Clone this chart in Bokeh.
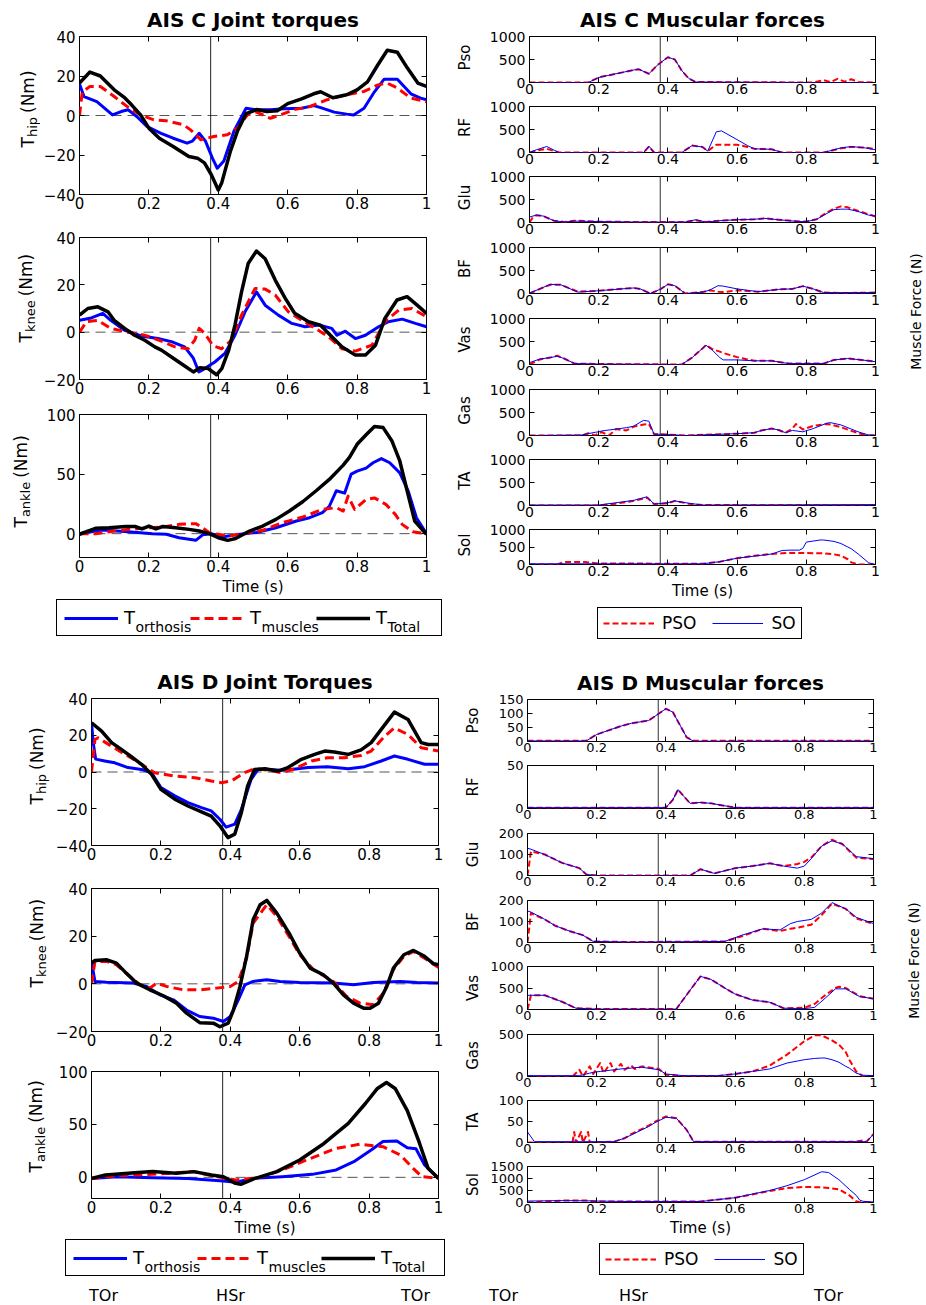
import math
import numpy as np
from bokeh.plotting import figure
from bokeh.layouts import row, column
from bokeh.models import Range1d, FixedTicker, LinearAxis, Span, Label, Legend, LegendItem
from bokeh.embed import file_html
from bokeh.resources import INLINE

FONT = "DejaVu Sans"
BLUE = "#0000ff"
RED = "#ff0000"
BLACK = "#000000"
HS = 0.378  # heel strike (right)
XTICKS = [0, 0.2, 0.4, 0.6, 0.8, 1]
XTICK_LABELS = ["0", "0.2", "0.4", "0.6", "0.8", "1"]
MUSCLES = ["Pso", "RF", "Glu", "BF", "Vas", "Gas", "TA", "Sol"]
EVENT_LABELS = ["TOr", "HSr", "TOr"]
TORQUE_SUBS = ["orthosis", "muscles", "Total"]

# ---------------- AIS C joint torques ----------------
C_HIP_ORT_T = [0, 0.013, 0.05, 0.095, 0.12, 0.14, 0.165, 0.195, 0.235, 0.27, 0.31, 0.325, 0.345, 0.363, 0.383, 0.397, 0.416, 0.445, 0.48, 0.51, 0.55, 0.59, 0.64, 0.675, 0.695, 0.734, 0.77, 0.79, 0.82, 0.85, 0.878, 0.916, 0.955, 0.983, 1.0]
C_HIP_ORT = [16, 9.6, 7, 0.3, 2, 2.9, -0.5, -5.6, -9, -11.5, -14, -13, -9, -13, -21.6, -26.7, -23, -8, 3.7, 2.9, 2.9, 3.4, 3.7, 5, 4, 1.7, 0.7, 0.3, 3.7, 12, 18.4, 18.4, 11, 8.8, 8]
C_HIP_MUS_T = [0, 0.008, 0.03, 0.06, 0.1, 0.137, 0.176, 0.214, 0.25, 0.3, 0.32, 0.35, 0.387, 0.426, 0.455, 0.484, 0.51, 0.55, 0.58, 0.617, 0.665, 0.714, 0.77, 0.82, 0.86, 0.887, 0.916, 0.955, 1.0]
C_HIP_MUS = [0, 12, 14.7, 14.7, 9.6, 4.6, 0.3, -2.2, -2.7, -4.7, -7.3, -12.3, -10.6, -9.8, -6.4, 0.3, 1.7, -1.4, 0.3, 2.9, 4.6, 8, 10.5, 12.2, 15.5, 16.4, 13.9, 8.8, 7]
C_HIP_TOT_T = [0, 0.03, 0.06, 0.1, 0.13, 0.15, 0.176, 0.2, 0.23, 0.27, 0.315, 0.34, 0.36, 0.38, 0.4, 0.41, 0.435, 0.455, 0.48, 0.51, 0.54, 0.57, 0.6, 0.64, 0.675, 0.695, 0.73, 0.77, 0.8, 0.83, 0.86, 0.887, 0.916, 0.945, 0.975, 1.0]
C_HIP_TOT = [16.4, 22, 20, 13, 9, 5.4, 0.3, -6.4, -11.5, -15.7, -20.8, -21.6, -24, -30, -37.7, -34, -18, -8, 1, 3, 2, 2.4, 6, 8.4, 11, 12, 9, 10.5, 13, 17, 25.7, 33, 32, 24, 16.4, 14.7]

C_KNEE_ORT_T = [0, 0.034, 0.067, 0.09, 0.13, 0.178, 0.226, 0.265, 0.303, 0.328, 0.344, 0.361, 0.39, 0.419, 0.448, 0.477, 0.51, 0.535, 0.573, 0.612, 0.65, 0.69, 0.727, 0.742, 0.766, 0.795, 0.824, 0.862, 0.89, 0.93, 0.968, 1.0]
C_KNEE_ORT = [5, 6, 7.9, 5, 0.8, -1.6, -2.7, -4, -6.2, -11, -16.8, -15.4, -12.6, -9, -1.3, 8.6, 17, 11.4, 7.2, 3.7, 2.3, 3, 1.6, -1.3, 0.4, -2.7, -1.3, 2.3, 4.4, 5.5, 3.7, 2.3]
C_KNEE_MUS_T = [0, 0.02, 0.053, 0.09, 0.14, 0.188, 0.236, 0.275, 0.313, 0.332, 0.345, 0.361, 0.385, 0.41, 0.438, 0.467, 0.506, 0.535, 0.564, 0.602, 0.641, 0.68, 0.718, 0.756, 0.795, 0.843, 0.88, 0.92, 0.958, 1.0]
C_KNEE_MUS = [0, 4.4, 5, 1.6, 0, -1.3, -3.8, -6.2, -7, -3.4, 1.6, -0.5, -5.8, -7, -3.4, 7.2, 18.5, 18.2, 15.7, 8.6, 5, 1.6, -2, -7, -8, -5.5, 4.4, 9.3, 10, 6.5]
C_KNEE_TOT_T = [0, 0.024, 0.053, 0.082, 0.1, 0.13, 0.159, 0.188, 0.217, 0.236, 0.265, 0.3, 0.328, 0.347, 0.371, 0.395, 0.41, 0.43, 0.448, 0.467, 0.486, 0.51, 0.535, 0.564, 0.593, 0.62, 0.66, 0.694, 0.723, 0.756, 0.795, 0.824, 0.853, 0.88, 0.915, 0.944, 0.973, 1.0]
C_KNEE_TOT = [7.2, 10, 10.7, 8.6, 5, 1.6, -1.3, -3.4, -6.2, -7.6, -10.5, -14, -16.8, -15, -15.4, -18, -15.4, -7.6, 3, 17, 29, 34.3, 31, 22, 14.3, 8, 4.4, 3, -1.3, -6.2, -9.7, -9.7, -5.5, 5.8, 13.6, 15, 11.4, 7.9]

C_ANK_ORT_T = [0, 0.065, 0.14, 0.21, 0.25, 0.287, 0.335, 0.355, 0.38, 0.41, 0.45, 0.51, 0.566, 0.625, 0.663, 0.7, 0.72, 0.74, 0.764, 0.783, 0.8, 0.826, 0.846, 0.87, 0.894, 0.923, 0.947, 0.971, 1.0]
C_ANK_ORT = [0, 3, 1.7, 0, -0.5, -3.4, -5.6, -1, 0, -2.8, -1, 1, 5, 10.6, 13.4, 17.6, 23, 36, 34, 50, 52.5, 55, 59.5, 63, 59.5, 51, 36, 13.4, 0]
C_ANK_MUS_T = [0, 0.046, 0.114, 0.18, 0.24, 0.287, 0.335, 0.355, 0.374, 0.4, 0.43, 0.47, 0.528, 0.585, 0.644, 0.7, 0.74, 0.76, 0.774, 0.793, 0.826, 0.85, 0.883, 0.91, 0.93, 0.96, 1.0]
C_ANK_MUS = [0, 0, 2.8, 4.5, 5.6, 7.8, 8.4, 5, 0.8, -0.5, -2, 0, 2.8, 9.2, 14, 20.4, 21.8, 19, 31.5, 20.4, 28.8, 30, 24.6, 16.2, 7.8, 1.7, 0]
C_ANK_TOT_T = [0, 0.046, 0.085, 0.133, 0.16, 0.18, 0.2, 0.22, 0.24, 0.277, 0.316, 0.345, 0.374, 0.4, 0.427, 0.45, 0.49, 0.528, 0.566, 0.605, 0.644, 0.682, 0.72, 0.76, 0.778, 0.8, 0.826, 0.85, 0.875, 0.9, 0.923, 0.942, 0.966, 1.0]
C_ANK_TOT = [-0.5, 4.5, 5, 6, 6, 4, 6.4, 4, 6, 5, 3.6, 2.2, 0, -3.4, -5.6, -4, 2.2, 6.4, 12, 19, 27, 36, 45.5, 57.5, 64, 75, 83, 90, 89, 78, 61, 38.5, 10.6, -0.5]

# ---------------- AIS C muscular forces ----------------
C_PSO_T = [0, 0.17, 0.2, 0.25, 0.3, 0.315, 0.345, 0.37, 0.4, 0.42, 0.44, 0.46, 0.48, 0.82, 0.85, 0.87, 0.89, 0.91, 0.93, 0.95, 1.0]
C_PSO_SO = [0, 0, 110, 190, 270, 290, 190, 380, 550, 500, 260, 90, 10, 0, 0, 0, 0, 0, 0, 0, 0]
C_PSO_PSO = [0, 0, 110, 190, 270, 290, 190, 380, 550, 500, 260, 90, 10, 0, 50, 10, 80, 20, 70, 10, 0]
C_RF_T = [0, 0.02, 0.05, 0.085, 0.2, 0.33, 0.345, 0.36, 0.44, 0.47, 0.5, 0.515, 0.54, 0.555, 0.6, 0.63, 0.65, 0.7, 0.73, 0.85, 0.9, 0.93, 0.97, 1.0]
C_RF_SO = [0, 60, 130, 0, 0, 0, 140, 0, 0, 150, 120, 30, 450, 470, 280, 150, 80, 70, 0, 0, 100, 130, 100, 60]
C_RF_PSO = [0, 40, 80, 0, 0, 0, 130, 0, 0, 150, 120, 30, 170, 170, 170, 120, 80, 70, 0, 0, 90, 120, 110, 70]
C_GLU_T = [0, 0.01, 0.02, 0.04, 0.07, 0.1, 0.13, 0.2, 0.3, 0.45, 0.48, 0.51, 0.55, 0.6, 0.65, 0.68, 0.72, 0.78, 0.8, 0.83, 0.86, 0.88, 0.9, 0.92, 0.95, 0.98, 1.0]
C_GLU_SO = [120, 140, 160, 140, 40, 10, 30, 20, 10, 10, 60, 10, 40, 60, 70, 90, 60, 20, 20, 70, 200, 280, 290, 290, 240, 160, 140]
C_GLU_PSO = [0, 120, 160, 140, 40, 10, 40, 20, 10, 10, 50, 10, 40, 60, 70, 90, 60, 20, 20, 70, 220, 300, 350, 330, 250, 180, 130]
C_BF_T = [0, 0.03, 0.06, 0.09, 0.14, 0.2, 0.3, 0.32, 0.35, 0.38, 0.4, 0.42, 0.45, 0.5, 0.52, 0.545, 0.56, 0.6, 0.66, 0.72, 0.76, 0.79, 0.82, 0.85, 0.9, 1.0]
C_BF_SO = [10, 100, 200, 190, 30, 60, 120, 100, 0, 100, 200, 170, 0, 30, 70, 170, 160, 100, 40, 90, 100, 160, 100, 20, 20, 20]
C_BF_PSO = [0, 100, 190, 190, 40, 60, 120, 100, 0, 100, 200, 170, 0, 30, 70, 40, 30, 70, 40, 90, 100, 160, 100, 20, 10, 20]
C_VAS_T = [0, 0.03, 0.06, 0.08, 0.1, 0.13, 0.2, 0.44, 0.47, 0.5, 0.51, 0.53, 0.55, 0.56, 0.6, 0.65, 0.7, 0.75, 0.85, 0.88, 0.92, 0.96, 1.0]
C_VAS_SO = [40, 120, 150, 180, 130, 20, 10, 0, 150, 350, 420, 300, 150, 100, 100, 80, 80, 20, 20, 100, 130, 100, 60]
C_VAS_PSO = [0, 110, 150, 190, 130, 20, 10, 0, 150, 350, 420, 330, 280, 250, 160, 80, 80, 20, 20, 100, 130, 100, 60]
C_GAS_T = [0, 0.15, 0.17, 0.19, 0.2, 0.21, 0.23, 0.25, 0.28, 0.3, 0.33, 0.345, 0.36, 0.4, 0.45, 0.6, 0.65, 0.67, 0.7, 0.72, 0.74, 0.76, 0.77, 0.79, 0.82, 0.86, 0.87, 0.9, 0.95, 0.98, 1.0]
C_GAS_SO = [0, 10, 40, 70, 80, 100, 120, 140, 170, 200, 330, 310, 30, 20, 0, 40, 60, 110, 150, 120, 60, 110, 100, 80, 150, 270, 280, 230, 80, 10, 10]
C_GAS_PSO = [0, 0, 50, 0, 60, 70, 0, 140, 110, 190, 240, 250, 30, 20, 0, 40, 60, 110, 150, 120, 60, 150, 250, 130, 210, 250, 240, 180, 50, 0, 0]
C_TA_T = [0, 0.2, 0.25, 0.3, 0.34, 0.36, 0.4, 0.42, 0.46, 0.5, 1.0]
C_TA_SO = [10, 10, 60, 110, 190, 30, 60, 100, 50, 10, 20]
C_TA_PSO = [0, 0, 40, 100, 170, 30, 50, 100, 40, 10, 0]
C_SOL_T = [0, 0.08, 0.1, 0.16, 0.2, 0.5, 0.55, 0.6, 0.65, 0.7, 0.73, 0.75, 0.78, 0.79, 0.8, 0.84, 0.85, 0.88, 0.9, 0.92, 0.93, 0.95, 0.98, 1.0]
C_SOL_SO = [20, 20, 20, 20, 20, 20, 80, 180, 240, 300, 400, 410, 410, 460, 640, 700, 700, 660, 600, 500, 450, 300, 50, 0]
C_SOL_PSO = [0, 0, 70, 70, 30, 20, 80, 180, 250, 300, 320, 330, 330, 330, 330, 320, 320, 290, 250, 150, 60, 0, 0, 0]

# ---------------- AIS D joint torques ----------------
D_HIP_ORT_T = [0, 0.005, 0.012, 0.038, 0.067, 0.105, 0.144, 0.173, 0.2, 0.24, 0.278, 0.317, 0.345, 0.37, 0.388, 0.413, 0.432, 0.46, 0.48, 0.51, 0.547, 0.576, 0.624, 0.68, 0.74, 0.787, 0.835, 0.873, 0.912, 0.96, 1.0]
D_HIP_ORT = [26.8, 16, 7, 6, 5, 2.4, 1.4, -0.4, -8.5, -13, -16.7, -19.4, -21.2, -25.7, -30, -28.4, -20.3, -4, 1.4, 1.4, 1, 1.4, 2.4, 2.9, 1.8, 2.9, 6, 8.7, 6.9, 4.2, 4.2]
D_HIP_MUS_T = [0, 0.01, 0.019, 0.058, 0.105, 0.144, 0.182, 0.24, 0.298, 0.345, 0.374, 0.403, 0.441, 0.47, 0.51, 0.547, 0.586, 0.634, 0.68, 0.729, 0.777, 0.806, 0.845, 0.873, 0.912, 0.95, 1.0]
D_HIP_MUS = [0, 17.7, 18.6, 14, 8.7, 4.2, -0.4, -2.2, -3.1, -4.9, -5.8, -4.9, -0.4, 1.8, 1, -0.4, 1.8, 6, 7.8, 7.8, 9, 11.4, 19.5, 24, 20.4, 13.2, 11.4]
D_HIP_TOT_T = [0, 0.029, 0.058, 0.086, 0.115, 0.144, 0.173, 0.2, 0.24, 0.278, 0.317, 0.345, 0.37, 0.393, 0.413, 0.432, 0.45, 0.47, 0.5, 0.537, 0.566, 0.605, 0.643, 0.672, 0.7, 0.74, 0.777, 0.806, 0.835, 0.873, 0.912, 0.95, 0.97, 1.0]
D_HIP_TOT = [26.8, 22.3, 16, 12.3, 8.3, 4.2, -1.3, -9.4, -14.8, -18.5, -21.7, -24, -29.3, -35.7, -33.8, -22, -7.6, 1.4, 1.8, 0.5, 2.4, 6.9, 9.6, 11.4, 10.9, 9.6, 12, 16, 23.2, 32.6, 28.6, 16, 15, 15]

D_KNEE_ORT_T = [0, 0.01, 0.043, 0.12, 0.159, 0.197, 0.236, 0.274, 0.312, 0.351, 0.38, 0.4, 0.423, 0.442, 0.466, 0.505, 0.543, 0.6, 0.697, 0.755, 0.812, 0.89, 0.938, 1.0]
D_KNEE_ORT = [9.4, 1, 0.7, 0.3, -1.1, -4.6, -6.7, -11, -13.7, -14.4, -15.8, -13.7, -6.7, -0.4, 1, 1.7, 1, 0.6, 0.3, -0.4, 0.6, 1, 0.6, 0.3]
D_KNEE_MUS_T = [0, 0.01, 0.043, 0.072, 0.11, 0.14, 0.168, 0.188, 0.216, 0.264, 0.312, 0.36, 0.4, 0.423, 0.447, 0.466, 0.505, 0.534, 0.572, 0.6, 0.64, 0.697, 0.735, 0.774, 0.812, 0.841, 0.87, 0.9, 0.928, 0.967, 1.0]
D_KNEE_MUS = [0, 9.4, 9.4, 8, 3.1, -0.4, -1.8, 0.3, -1.1, -2.5, -2.5, -1.8, -1.1, 1, 10.8, 25.5, 33.2, 28.3, 19.2, 12.2, 5.9, 1, -5.3, -8.1, -8.8, -3.9, 5.9, 11.5, 13.6, 10.1, 6.9]
D_KNEE_TOT_T = [0, 0.01, 0.043, 0.072, 0.1, 0.13, 0.168, 0.207, 0.245, 0.274, 0.312, 0.351, 0.37, 0.394, 0.409, 0.428, 0.447, 0.466, 0.486, 0.505, 0.534, 0.572, 0.6, 0.63, 0.668, 0.697, 0.726, 0.755, 0.784, 0.803, 0.827, 0.851, 0.87, 0.9, 0.928, 0.957, 0.986, 1.0]
D_KNEE_TOT = [8.7, 9.8, 10.1, 8.7, 4.5, 0.3, -2.5, -5, -8.1, -12.3, -16.3, -16.5, -18, -16.5, -11, -1.1, 11.5, 27, 33.2, 35, 29.7, 20.6, 12.9, 6.6, 3.8, 0.3, -4.6, -8.1, -10.2, -10.2, -8.1, -1.1, 6.6, 12.2, 14, 11.8, 8.4, 8]

D_ANK_ORT_T = [0, 0.073, 0.176, 0.278, 0.38, 0.415, 0.466, 0.55, 0.636, 0.705, 0.756, 0.807, 0.84, 0.88, 0.91, 0.935, 0.96, 1.0]
D_ANK_ORT = [-1, 0.6, -0.3, -1, -3.5, -4.7, -1, 0.6, 2.8, 7, 14.8, 26, 33.8, 34.4, 28, 27, 11.7, -1]
D_ANK_MUS_T = [0, 0.073, 0.176, 0.295, 0.346, 0.415, 0.483, 0.55, 0.62, 0.705, 0.773, 0.84, 0.89, 0.927, 0.952, 1.0]
D_ANK_MUS = [-1, 1.6, 2.8, 5.4, 1.6, -2.5, -0.3, 7, 16.4, 27.4, 31.2, 29, 21, 8.5, 0.6, -1]
D_ANK_TOT_T = [0, 0.04, 0.125, 0.176, 0.244, 0.295, 0.346, 0.38, 0.415, 0.43, 0.466, 0.534, 0.6, 0.67, 0.74, 0.79, 0.824, 0.85, 0.875, 0.91, 0.944, 0.97, 1.0]
D_ANK_TOT = [-1, 2.2, 4.4, 5.4, 3.8, 5.4, 2.2, 0.6, -5.7, -6.6, -1.6, 5.4, 16.4, 32, 51, 70, 84, 89.6, 84, 63, 33.4, 8.5, -1]

# ---------------- AIS D muscular forces ----------------
D_PSO_T = [0, 0.17, 0.2, 0.23, 0.27, 0.3, 0.35, 0.38, 0.4, 0.42, 0.44, 0.46, 0.48, 1.0]
D_PSO_SO = [2, 2, 25, 38, 55, 65, 75, 100, 117, 105, 60, 15, 1, 2]
D_PSO_PSO = [3, 3, 25, 38, 55, 65, 75, 100, 117, 105, 60, 15, 3, 3]
D_RF_T = [0, 0.38, 0.4, 0.42, 0.435, 0.45, 0.47, 0.5, 0.53, 0.6, 1.0]
D_RF_SO = [1, 1, 1, 10, 22, 15, 6, 7, 6, 1, 1]
D_RF_PSO = [1, 1, 1, 10, 22, 15, 6, 7, 6, 1, 1]
D_GLU_T = [0, 0.01, 0.05, 0.1, 0.15, 0.17, 0.2, 0.47, 0.5, 0.54, 0.6, 0.65, 0.7, 0.74, 0.78, 0.8, 0.82, 0.85, 0.88, 0.91, 0.95, 1.0]
D_GLU_SO = [130, 125, 100, 60, 35, 5, 0, 0, 30, 10, 35, 45, 58, 45, 35, 45, 80, 140, 165, 150, 90, 80]
D_GLU_PSO = [0, 115, 100, 60, 35, 5, 0, 0, 30, 10, 35, 45, 58, 45, 55, 65, 85, 140, 170, 150, 85, 78]
D_BF_T = [0, 0.01, 0.05, 0.08, 0.12, 0.16, 0.19, 0.3, 0.57, 0.62, 0.68, 0.73, 0.76, 0.78, 0.82, 0.85, 0.88, 0.92, 0.95, 1.0]
D_BF_SO = [150, 145, 110, 80, 55, 35, 5, 2, 5, 35, 65, 60, 90, 100, 110, 140, 190, 160, 120, 90]
D_BF_PSO = [0, 140, 110, 80, 55, 35, 5, 2, 5, 30, 65, 55, 65, 70, 85, 130, 185, 160, 115, 88]
D_VAS_T = [0, 0.01, 0.05, 0.1, 0.14, 0.2, 0.43, 0.47, 0.5, 0.53, 0.57, 0.6, 0.65, 0.7, 0.74, 0.8, 0.83, 0.86, 0.89, 0.9, 0.92, 0.96, 1.0]
D_VAS_SO = [330, 330, 330, 180, 30, 10, 10, 450, 770, 700, 500, 360, 220, 170, 30, 20, 50, 260, 480, 480, 480, 300, 250]
D_VAS_PSO = [0, 330, 330, 180, 30, 10, 10, 450, 770, 700, 500, 360, 220, 170, 30, 40, 130, 330, 500, 530, 500, 310, 250]
D_GAS_T = [0, 0.13, 0.15, 0.16, 0.18, 0.19, 0.21, 0.22, 0.24, 0.25, 0.27, 0.28, 0.3, 0.31, 0.33, 0.38, 0.4, 0.45, 0.55, 0.6, 0.65, 0.7, 0.75, 0.8, 0.83, 0.85, 0.86, 0.88, 0.9, 0.92, 0.93, 0.95, 0.97, 1.0]
D_GAS_SO = [10, 10, 10, 20, 40, 50, 60, 65, 75, 80, 90, 95, 100, 105, 110, 80, 30, 10, 10, 30, 60, 90, 160, 200, 215, 220, 220, 200, 170, 120, 100, 40, 15, 10]
D_GAS_PSO = [0, 0, 80, 0, 120, 30, 160, 40, 160, 60, 150, 80, 130, 90, 120, 90, 20, 5, 5, 30, 60, 130, 260, 420, 490, 490, 470, 430, 380, 290, 200, 60, 0, 0]
D_TA_T = [0, 0.02, 0.13, 0.135, 0.14, 0.155, 0.16, 0.175, 0.18, 0.25, 0.28, 0.3, 0.33, 0.35, 0.37, 0.4, 0.43, 0.46, 0.48, 0.95, 0.97, 0.98, 1.0]
D_TA_SO = [25, 2, 2, 2, 2, 2, 2, 2, 2, 2, 10, 18, 30, 38, 48, 60, 58, 30, 2, 2, 2, 2, 20]
D_TA_PSO = [0, 0, 0, 25, 0, 25, 0, 25, 0, 2, 10, 20, 32, 40, 50, 62, 58, 30, 2, 2, 5, 2, 20]
D_SOL_T = [0, 0.1, 0.17, 0.2, 0.3, 0.5, 0.6, 0.7, 0.75, 0.8, 0.85, 0.87, 0.9, 0.93, 0.95, 0.96, 0.97, 1.0]
D_SOL_SO = [60, 80, 70, 60, 40, 40, 200, 500, 700, 950, 1280, 1250, 950, 550, 300, 100, 50, 20]
D_SOL_PSO = [0, 80, 80, 40, 40, 40, 200, 480, 600, 650, 630, 600, 550, 300, 50, 10, 0, 0]

# y-axis settings
C_MUS_YR = [(0, 1000)] * 8
C_MUS_TICKS = [[0, 500, 1000]] * 8
D_MUS_YR = [(0, 150), (0, 50), (0, 200), (0, 200), (0, 1000), (0, 500), (0, 100), (0, 1500)]
D_MUS_TICKS = [[0, 50, 100, 150], [0, 50], [0, 100, 200], [0, 100, 200], [0, 500, 1000], [0, 500], [0, 50, 100], [0, 500, 1000, 1500]]

# ---------------- helpers ----------------
ADV = {"T": .611, "h": .634, "i": .278, "p": .635, "k": .579, "n": .634, "e": .615, "a": .613,
       "l": .278, "(": .39, "N": .748, "m": .974, ")": .39, " ": .318, "o": .612, "r": .411,
       "t": .392, "s": .521, "u": .634, "c": .55}


def tw(s, px):
    return sum(ADV.get(c, 0.6) for c in s) * px


def style_axis(ax, px):
    ax.axis_line_color = None
    ax.major_tick_in = 5
    ax.major_tick_out = 0
    ax.minor_tick_line_color = None
    ax.major_tick_line_color = "black"
    ax.major_label_text_font = FONT
    ax.major_label_text_font_size = f"{px}px"
    ax.major_label_text_color = "black"


def blank_fig(w, h, left=0, top=0):
    p = figure(width=w, height=h, x_range=Range1d(0, 1), y_range=Range1d(0, 1),
               toolbar_location=None, tools="", output_backend="svg",
               x_axis_location=None, y_axis_location=None,
               min_border_left=left, min_border_top=top, min_border_right=0, min_border_bottom=0)
    p.outline_line_color = None
    p.grid.visible = False
    p.background_fill_color = "white"
    p.border_fill_color = "white"
    return p


def make_panel(fw, fh, bl, br, bt, bb, yr, yticks, px, xstand=2, title=None):
    p = figure(frame_width=fw, frame_height=fh, min_border_left=bl, min_border_right=br,
               min_border_top=bt, min_border_bottom=bb, x_range=Range1d(0, 1),
               y_range=Range1d(yr[0], yr[1]), toolbar_location=None, tools="",
               output_backend="svg", title=title)
    p.background_fill_color = "white"
    p.border_fill_color = "white"
    p.xgrid.visible = False
    p.ygrid.visible = False
    p.outline_line_color = "black"
    p.outline_line_width = 1
    p.outline_line_alpha = 1.0
    xa, ya = p.below[0], p.left[0]
    xa.ticker = FixedTicker(ticks=XTICKS)
    xa.major_label_overrides = dict(zip(XTICKS, XTICK_LABELS))
    ya.ticker = FixedTicker(ticks=yticks)
    style_axis(xa, px)
    style_axis(ya, px)
    xa.major_label_standoff = xstand
    ya.major_label_standoff = 4
    for loc, tk in (("right", yticks), ("above", XTICKS)):
        m = LinearAxis(ticker=FixedTicker(ticks=tk))
        style_axis(m, px)
        m.major_label_text_font_size = "0px"
        m.major_label_text_color = None
        m.major_label_standoff = 0
        p.add_layout(m, loc)
    if title:
        p.title.align = "center"
        p.title.text_font = FONT
        p.title.text_font_size = "20px"
        p.title.text_font_style = "bold"
        p.title.text_color = "black"
    return p


def time_label(p, px=15):
    xa = p.below[0]
    xa.axis_label = "Time (s)"
    xa.axis_label_text_font = FONT
    xa.axis_label_text_font_size = f"{px}px"
    xa.axis_label_text_font_style = "normal"
    xa.axis_label_text_color = "black"
    xa.axis_label_standoff = 3


def add_label(p, x, y, text, px, angle=0.0, align="left", baseline="alphabetic"):
    p.add_layout(Label(x=x, y=y, x_units="screen", y_units="screen", text=text, angle=angle,
                       text_font=FONT, text_font_size=f"{px}px", text_align=align,
                       text_baseline=baseline, text_color="black"))


def t_ylabel(p, sub, x0, y0, tpx=17, spx=13):
    a = math.pi / 2
    add_label(p, x0, y0, "T", tpx, a)
    add_label(p, x0 + 5, y0 + tw("T", tpx), sub, spx, a)
    add_label(p, x0, y0 + tw("T", tpx) + tw(sub, spx) + 4, "(Nm)", tpx, a)


def torque_panel(dims, yr, yticks, series, title=None):
    fw, fh, bl, br, bt, bb = dims
    p = make_panel(fw, fh, bl, br, bt, bb, yr, yticks, 15, 2, title)
    p.add_layout(Span(location=0, dimension="width", line_color="#555555", line_width=1,
                      line_dash="10 6", level="underlay"))
    p.add_layout(Span(location=HS, dimension="height", line_color="#222222", line_width=1,
                      level="underlay"))
    (t1, y1), (t2, y2), (t3, y3) = series
    p.line(t1, y1, line_color=BLUE, line_width=3, line_join="round")
    p.line(t2, y2, line_color=RED, line_width=3, line_dash="9 5", line_join="round")
    p.line(t3, y3, line_color=BLACK, line_width=3.5, line_join="round")
    return p


def muscle_panel(dims, yr, yticks, t, pso, so, px, title=None):
    fw, fh, bl, br, bt, bb = dims
    p = make_panel(fw, fh, bl, br, bt, bb, yr, yticks, px, 1, title)
    p.add_layout(Span(location=HS, dimension="height", line_color="#555555", line_width=1.2,
                      level="underlay"))
    p.line(t, pso, line_color=RED, line_width=2, line_dash="6 3", line_join="round")
    p.line(t, so, line_color=BLUE, line_width=1, line_join="round")
    return p


NAN1 = np.array([np.nan])  # legend proxies draw nothing in the plot area


def torque_legend_fig(w, h, left, top, lw, pad=7, gw=54, gh=20, stand=6, sp=8, fpx=18, spx=14):
    p = blank_fig(w, h, left, top)
    r1 = p.line(NAN1, NAN1, line_color=BLUE, line_width=3)
    r2 = p.line(NAN1, NAN1, line_color=RED, line_width=3, line_dash="9 5")
    r3 = p.line(NAN1, NAN1, line_color=BLACK, line_width=3.5)
    items = [LegendItem(label="T", renderers=[r]) for r in (r1, r2, r3)]
    leg = Legend(items=items, location="top_left", orientation="horizontal", padding=pad,
                 glyph_width=gw, glyph_height=gh, label_standoff=stand, label_width=lw,
                 spacing=sp, margin=0, label_text_font=FONT, label_text_font_size=f"{fpx}px",
                 label_text_color="black",
                 border_line_color="black", border_line_width=1, border_line_alpha=1.0,
                 background_fill_alpha=0.0)
    p.add_layout(leg)
    frame_h = h - top
    pitch = gw + stand + lw + sp
    hgt = 2 * pad + max(gh, fpx * 1.164)
    base = frame_h - (hgt / 2 + 0.345 * fpx + 4)
    for i, s in enumerate(TORQUE_SUBS):
        x = pad + i * pitch + gw + stand + tw("T", fpx) + 1
        add_label(p, x, base, s, spx)
    return p


def muscle_legend_fig(w, h, left, top):
    p = blank_fig(w, h, left, top)
    r1 = p.line(NAN1, NAN1, line_color=RED, line_width=2, line_dash="6 3")
    r2 = p.line(NAN1, NAN1, line_color=BLUE, line_width=1.2)
    items = [LegendItem(label="PSO", renderers=[r1]), LegendItem(label="SO", renderers=[r2])]
    leg = Legend(items=items, location="top_left", orientation="horizontal", padding=5,
                 glyph_width=51, glyph_height=16, label_standoff=8, spacing=16, margin=0,
                 label_text_font=FONT, label_text_font_size="17px", label_text_color="black",
                 border_line_color="black", border_line_width=1, border_line_alpha=1.0,
                 background_fill_alpha=0.0)
    p.add_layout(leg)
    return p


def frame_bottoms(bts, fhs, bbs):
    """screen y (from column top) of each frame's top and bottom"""
    out, y = [], 0
    for bt, fh, bb in zip(bts, fhs, bbs):
        out.append((y + bt, y + bt + fh))
        y += bt + fh + bb
    return out, y


# =============== AIS C: joint torques (left, x 0..450, y 0..645) ===============
TL_BT, TL_FH, TL_BB = [35, 21, 13], [158, 142, 143], [22, 22, 41]
tl_frames, tl_h = frame_bottoms(TL_BT, TL_FH, TL_BB)
tl_specs = [((-40, 40), [-40, -20, 0, 20, 40], [(C_HIP_ORT_T, C_HIP_ORT), (C_HIP_MUS_T, C_HIP_MUS), (C_HIP_TOT_T, C_HIP_TOT)]),
            ((-20, 40), [-20, 0, 20, 40], [(C_KNEE_ORT_T, C_KNEE_ORT), (C_KNEE_MUS_T, C_KNEE_MUS), (C_KNEE_TOT_T, C_KNEE_TOT)]),
            ((-20, 100), [0, 50, 100], [(C_ANK_ORT_T, C_ANK_ORT), (C_ANK_MUS_T, C_ANK_MUS), (C_ANK_TOT_T, C_ANK_TOT)])]
tl_panels = []
for i, (yr, yt, ser) in enumerate(tl_specs):
    tl_panels.append(torque_panel((347, TL_FH[i], 38, 25, TL_BT[i], TL_BB[i]), yr, yt, ser,
                                  "AIS C Joint torques" if i == 0 else None))
time_label(tl_panels[2])
tl_lab = blank_fig(40, tl_h)
for (ftop, fbot), sub, bx, off in zip(tl_frames, ["hip", "knee", "ankle"], [27, 25, 20], [46, 36, 29]):
    t_ylabel(tl_lab, sub, bx, tl_h - fbot + off)
tl_leg = torque_legend_fig(450, 645 - tl_h, 56, 1, 58)
tl_col = column(row(tl_lab, column(*tl_panels)), tl_leg)

# =============== AIS C: muscular forces (right, x 450..926) ===============
TR_BT = [34, 6, 6, 6, 6, 6, 6, 6]
TR_FH = [46, 46, 46, 46, 46, 46, 46, 35]
TR_BB = [18, 18, 19, 19, 19, 18, 18, 39]
tr_frames, tr_h = frame_bottoms(TR_BT, TR_FH, TR_BB)
C_MUS_DATA = [(C_PSO_T, C_PSO_PSO, C_PSO_SO), (C_RF_T, C_RF_PSO, C_RF_SO), (C_GLU_T, C_GLU_PSO, C_GLU_SO),
              (C_BF_T, C_BF_PSO, C_BF_SO), (C_VAS_T, C_VAS_PSO, C_VAS_SO), (C_GAS_T, C_GAS_PSO, C_GAS_SO),
              (C_TA_T, C_TA_PSO, C_TA_SO), (C_SOL_T, C_SOL_PSO, C_SOL_SO)]
tr_panels = []
for i, (t, pso, so) in enumerate(C_MUS_DATA):
    tr_panels.append(muscle_panel((346, TR_FH[i], 42, 10, TR_BT[i], TR_BB[i]), C_MUS_YR[i], C_MUS_TICKS[i],
                                  t, pso, so, 14, "AIS C Muscular forces" if i == 0 else None))
time_label(tr_panels[7])
tr_lab = blank_fig(35, tr_h)
for (ftop, fbot), name in zip(tr_frames, MUSCLES):
    add_label(tr_lab, 13, tr_h - (ftop + fbot) / 2, name, 15, math.pi / 2, "center", "middle")
tr_side = blank_fig(43, tr_h)
add_label(tr_side, 30, tr_h - 311, "Muscle Force (N)", 14, math.pi / 2, "center", "middle")
tr_leg = muscle_legend_fig(476, 645 - tr_h, 146, 4)
tr_col = column(row(tr_lab, column(*tr_panels), tr_side), tr_leg)

# =============== AIS D: joint torques (left, y 645..1305) ===============
BL_BT, BL_FH, BL_BB = [51, 21, 18], [147, 143, 127], [22, 22, 41]
bl_frames, bl_h = frame_bottoms(BL_BT, BL_FH, BL_BB)
bl_specs = [((-40, 40), [-40, -20, 0, 20, 40], [(D_HIP_ORT_T, D_HIP_ORT), (D_HIP_MUS_T, D_HIP_MUS), (D_HIP_TOT_T, D_HIP_TOT)]),
            ((-20, 40), [-20, 0, 20, 40], [(D_KNEE_ORT_T, D_KNEE_ORT), (D_KNEE_MUS_T, D_KNEE_MUS), (D_KNEE_TOT_T, D_KNEE_TOT)]),
            ((-20, 100), [0, 50, 100], [(D_ANK_ORT_T, D_ANK_ORT), (D_ANK_MUS_T, D_ANK_MUS), (D_ANK_TOT_T, D_ANK_TOT)])]
bl_panels = []
for i, (yr, yt, ser) in enumerate(bl_specs):
    bl_panels.append(torque_panel((347, BL_FH[i], 41, 12, BL_BT[i], BL_BB[i]), yr, yt, ser,
                                  "AIS D Joint Torques" if i == 0 else None))
time_label(bl_panels[2])
bl_lab = blank_fig(50, bl_h)
for (ftop, fbot), sub, bx, off in zip(bl_frames, ["hip", "knee", "ankle"], [36, 36, 35], [41, 44, 26]):
    t_ylabel(bl_lab, sub, bx, bl_h - fbot + off)
bl_leg_h = 660 - bl_h
bl_leg = torque_legend_fig(450, bl_leg_h, 65, 0, 56)
for x, s in zip([103 - 65, 230 - 65, 415 - 65], EVENT_LABELS):
    add_label(bl_leg, x, 12, s, 16, 0.0, "center", "middle")
bl_col = column(row(bl_lab, column(*bl_panels)), bl_leg)

# =============== AIS D: muscular forces (right) ===============
BR_BT = [52, 6, 6, 6, 6, 6, 6, 6]
BR_FH = [42, 43, 42, 42, 43, 42, 42, 36]
BR_BB = [18, 19, 19, 18, 19, 18, 18, 39]
br_frames, br_h = frame_bottoms(BR_BT, BR_FH, BR_BB)
D_MUS_DATA = [(D_PSO_T, D_PSO_PSO, D_PSO_SO), (D_RF_T, D_RF_PSO, D_RF_SO), (D_GLU_T, D_GLU_PSO, D_GLU_SO),
              (D_BF_T, D_BF_PSO, D_BF_SO), (D_VAS_T, D_VAS_PSO, D_VAS_SO), (D_GAS_T, D_GAS_PSO, D_GAS_SO),
              (D_TA_T, D_TA_PSO, D_TA_SO), (D_SOL_T, D_SOL_PSO, D_SOL_SO)]
br_panels = []
for i, (t, pso, so) in enumerate(D_MUS_DATA):
    br_panels.append(muscle_panel((346, BR_FH[i], 42, 10, BR_BT[i], BR_BB[i]), D_MUS_YR[i], D_MUS_TICKS[i],
                                  t, pso, so, 13, "AIS D Muscular forces" if i == 0 else None))
time_label(br_panels[7])
br_lab = blank_fig(35, br_h)
for (ftop, fbot), name in zip(br_frames, MUSCLES):
    add_label(br_lab, 22, br_h - (ftop + fbot) / 2, name, 15, math.pi / 2, "center", "middle")
br_side = blank_fig(43, br_h)
add_label(br_side, 30, br_h - (958 - 645), "Muscle Force (N)", 14, math.pi / 2, "center", "middle")
br_leg_h = 660 - br_h
br_ev = blank_fig(149, br_leg_h)
add_label(br_ev, 503 - 450, 12, EVENT_LABELS[0], 16, 0.0, "center", "middle")
br_leg = muscle_legend_fig(327, br_leg_h, 0, 2)
for x, s in zip([633 - 599, 828 - 599], EVENT_LABELS[1:]):
    add_label(br_leg, x, 12, s, 16, 0.0, "center", "middle")
br_col = column(row(br_lab, column(*br_panels), br_side), row(br_ev, br_leg))

layout = column(row(tl_col, tr_col), row(bl_col, br_col))

open("out.html", "w").write(file_html(layout, INLINE, "AIS C / AIS D joint torques and muscular forces"))
